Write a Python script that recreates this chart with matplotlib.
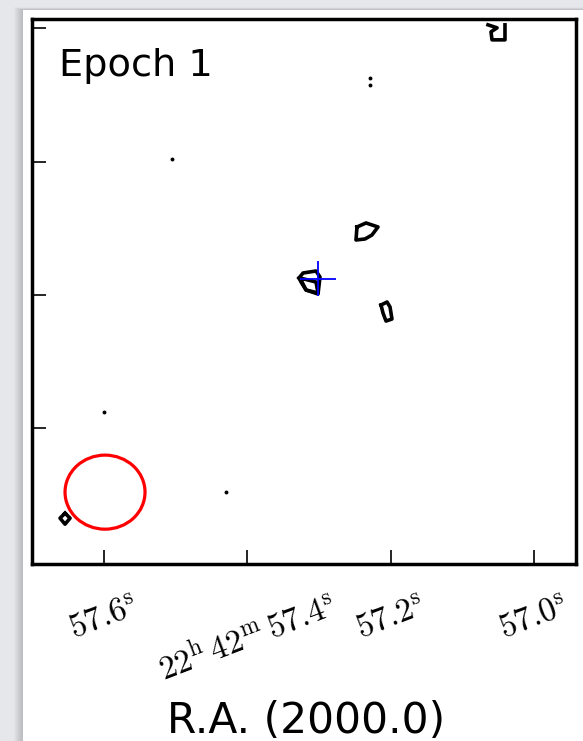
import numpy as np
import matplotlib
matplotlib.use("Agg")
import matplotlib.pyplot as plt
from matplotlib.patches import Ellipse, Rectangle

plt.rcParams['mathtext.fontset'] = 'cm'

# map limits: R.A. seconds (past 22h42m) and Dec offset in arcsec
ra_lim = (57.7005, 56.9414)
dec_lim = (-2.016, 2.071)
ra_ticks = [57.6, 57.4, 57.2, 57.0]
ra_labels = [r'$57.6^{\mathrm{s}}$',
             r'$22^{\mathrm{h}}\,42^{\mathrm{m}}\,57.4^{\mathrm{s}}$',
             r'$57.2^{\mathrm{s}}$',
             r'$57.0^{\mathrm{s}}$']
dec_ticks = [-1, 0, 1, 2]

# contour outlines (ra [s], dec [arcsec])
core_ra = [57.3279, 57.3223, 57.3042, 57.2986, 57.3014, 57.3181, 57.3251]
core_dec = [0.1275, 0.165, 0.18, 0.135, 0.0075, 0.0375, 0.0975]
core_in_ra = [57.3265, 57.3042, 57.3014, 57.3181]
core_in_dec = [0.1275, 0.0975, 0.015, 0.0375]

knot_ne_ra = [57.2470, 57.2344, 57.2177, 57.2261, 57.2358, 57.2484]
knot_ne_dec = [0.51, 0.54, 0.51, 0.45, 0.42, 0.4125]

knot_e_ra = [57.2135, 57.2051, 57.2009, 57.1982, 57.2065, 57.2107]
knot_e_dec = [-0.075, -0.0525, -0.09, -0.18, -0.195, -0.135]

# open contour running off the top of the map
edge_ra = [57.0642, 57.0516, 57.0600, 57.0586, 57.0405, 57.0405]
edge_dec = [2.025, 2.0025, 1.9725, 1.9125, 1.9125, 2.025]

sw_ra = [57.6544, 57.6474, 57.6544, 57.6614]
sw_dec = [-1.635, -1.6725, -1.7175, -1.6725]

# unresolved blips
blip_ra = [57.2289, 57.2289, 57.5051, 57.6000, 57.4298]
blip_dec = [1.6275, 1.575, 1.02, -0.8775, -1.4775]

# reference position and its uncertainty
ref_ra, ref_dec = 57.3014, 0.122
ref_ra_err, ref_dec_err = 0.0251, 0.131

# synthesized beam
beam_ra, beam_dec = 57.5986, -1.4775
beam_w, beam_h = 0.1116, 0.555

fig = plt.figure(figsize=(5.83, 7.41), dpi=100)
fig.patch.set_facecolor('#e6e7eb')
W, H = 583.0, 741.0
# page shadow + white page
for i in range(10):
    fig.patches.append(Rectangle(((23 - i) / W, 0), 1, (H - 10 + i * 0.3) / H,
                                 transform=fig.transFigure, color='k',
                                 alpha=0.018, lw=0, zorder=-3))
fig.patches.append(Rectangle((23 / W, 0), 1, (H - 10) / H, transform=fig.transFigure,
                             color='white', lw=0, zorder=-2))

ax = fig.add_axes([32 / W, (H - 564) / H, 544 / W, (564 - 18.7) / H])
ax.set_xlim(ra_lim)
ax.set_ylim(dec_lim)

lw = 2.6
for xs, ys in [(core_ra, core_dec), (core_in_ra, core_in_dec),
               (knot_ne_ra, knot_ne_dec), (knot_e_ra, knot_e_dec), (sw_ra, sw_dec)]:
    ax.plot(xs + xs[:1], ys + ys[:1], color='k', lw=lw, solid_joinstyle='round')
ax.plot(edge_ra, edge_dec, color='k', lw=lw, solid_joinstyle='round')
ax.plot(blip_ra, blip_dec, 'o', color='k', ms=2.8, mew=0)

ax.errorbar(ref_ra, ref_dec, xerr=ref_ra_err, yerr=ref_dec_err, color='blue',
            lw=1.3, capsize=0, fmt='none')

ax.add_patch(Ellipse((beam_ra, beam_dec), beam_w, beam_h, fill=False,
                     ec='red', lw=2.3))

ax.set_xticks(ra_ticks)
ax.set_xticklabels(ra_labels)
ax.set_yticks(dec_ticks)
ax.set_yticklabels([])
ax.tick_params(axis='x', direction='in', length=10, width=1.2, pad=18,
               labelsize=24, labelrotation=21)
ax.tick_params(axis='y', direction='in', length=10, width=1.2)
for s in ax.spines.values():
    s.set_linewidth(2.5)

ax.text(0.0495, 0.8956, 'Epoch 1', transform=ax.transAxes, fontsize=27.5,
        va='baseline', ha='left')
fig.text(306 / W, (H - 733) / H, 'R.A. (2000.0)', fontsize=30.5,
         ha='center', va='baseline')

fig.savefig('out.png', dpi=100, facecolor=fig.get_facecolor())
